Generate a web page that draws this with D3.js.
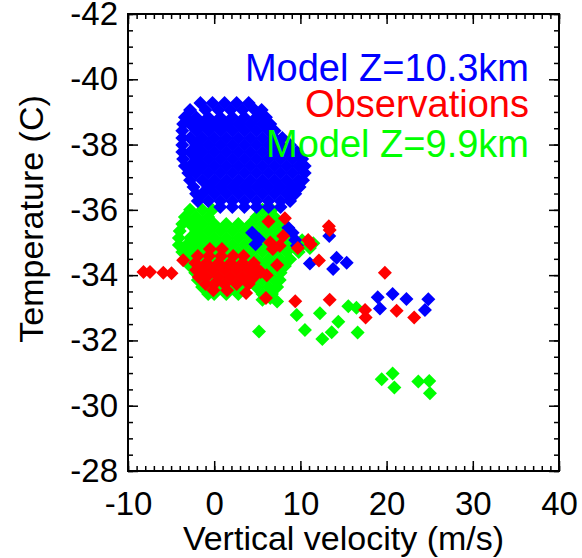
<!DOCTYPE html>
<html>
<head>
<meta charset="utf-8">
<script src="https://cdn.jsdelivr.net/npm/d3@7"></script>
<style>
  html, body { margin: 0; padding: 0; background: #fff; }
  svg { display: block; }
  text { font-family: "Liberation Sans", Arial, Helvetica, sans-serif; }
</style>
</head>
<body>
<svg id="chart" width="582" height="558"></svg>
<script>
// ---------- data ----------
const xTicks = [-10, 0, 10, 20, 30, 40];
const xTickLabels = ["-10", "0", "10", "20", "30", "40"];
const yTicks = [-42, -40, -38, -36, -34, -32, -30, -28];
const yTickLabels = ["-42", "-40", "-38", "-36", "-34", "-32", "-30", "-28"];

const seriesNames = ["Model Z=10.3km", "Observations", "Model Z=9.9km"];
const seriesColors = ["#0000ff", "#ff0000", "#00ff00"];

// Model Z=10.3km : rows of [temperature, [vertical velocities]]
const blueRows = [
  [-39.27, [-1.6, -0.2, 1.2, 2.6, 4.0]],
  [-39.06, [-2.8, -1.0, 0.5, 1.9, 3.3, 4.7, 5.5]],
  [-38.84, [-3.4, -2.1, -0.7, 0.7, 2.1, 3.5, 4.9, 6.0]],
  [-38.63, [-3.6, -2.8, -1.4, 0.0, 1.4, 2.8, 4.2, 5.6, 6.5]],
  [-38.42, [-3.7, -2.1, -0.7, 0.7, 2.1, 3.5, 4.9, 6.3, 7.0]],
  [-38.20, [-3.7, -2.8, -1.4, 0.0, 1.4, 2.8, 4.2, 5.6, 7.0, 7.9]],
  [-37.99, [-3.7, -2.1, -0.7, 0.7, 2.1, 3.5, 4.9, 6.3, 7.7, 8.8]],
  [-37.77, [-3.7, -2.8, -1.4, 0.0, 1.4, 2.8, 4.2, 5.6, 7.0, 8.4, 9.6]],
  [-37.56, [-3.6, -2.1, -0.7, 0.7, 2.1, 3.5, 4.9, 6.3, 7.7, 9.1, 10.2]],
  [-37.34, [-3.4, -2.8, -1.4, 0.0, 1.4, 2.8, 4.2, 5.6, 7.0, 8.4, 9.8, 10.5]],
  [-37.13, [-3.0, -2.1, -0.7, 0.7, 2.1, 3.5, 4.9, 6.3, 7.7, 9.1, 10.5]],
  [-36.91, [-2.8, -1.4, 0.0, 1.4, 2.8, 4.2, 5.6, 7.0, 8.4, 9.8, 10.3]],
  [-36.70, [-2.4, -0.7, 0.7, 2.1, 3.5, 4.9, 6.3, 7.7, 9.1, 9.9]],
  [-36.49, [-2.1, -1.4, 0.0, 1.4, 2.8, 4.2, 5.6, 7.0, 8.4, 9.4]],
  [-36.27, [-1.9, -0.7, 0.7, 2.1, 3.5, 4.9, 6.3, 7.7, 8.8]],
  [-36.09, [0.7, 2.1, 3.5, 4.9, 6.3, 7.7]]
];
const blueExtra = [
  [4.4, -35.3], [5.2, -35.1], [4.8, -34.95], [8.6, -35.45], [9.1, -35.3],
  [9.4, -35.08], [9.6, -34.9], [13.35, -35.2], [11.1, -34.36], [14.2, -34.53],
  [15.37, -34.38], [13.8, -34.19], [18.97, -33.32], [20.7, -33.42], [22.3, -33.27],
  [24.84, -33.26], [19.23, -32.98], [24.45, -32.93]
];

// Model Z=9.9km
const greenRows = [
  [-36.00, [-2.8, -1.4, -0.2, 5.6, 6.7]],
  [-35.78, [-3.4, -2.1, -0.7, 4.9, 6.3, 7.0]],
  [-35.57, [-3.7, -2.8, -1.4, 0.0, 1.4, 2.8, 4.2, 5.6, 7.0, 7.6]],
  [-35.35, [-4.0, -2.1, -0.7, 0.7, 2.1, 3.5, 4.9, 6.3, 7.7, 8.2]],
  [-35.14, [-4.1, -2.8, -1.4, 0.0, 1.4, 2.8, 4.2, 5.6, 7.0, 8.4]],
  [-34.92, [-4.1, -3.2, -2.1, -0.7, 0.7, 2.1, 3.5, 4.9, 6.3, 7.7, 9.1]],
  [-34.71, [-3.7, -2.8, -1.4, 0.0, 1.4, 2.8, 4.2, 5.6, 7.0, 8.4, 9.8]],
  [-34.49, [-3.3, -2.1, -0.7, 0.7, 2.1, 3.5, 4.9, 6.3, 7.7, 8.8]],
  [-34.28, [-2.8, -1.4, 0.0, 1.4, 2.8, 4.2, 5.6, 7.0, 8.2]],
  [-34.07, [-2.2, -0.7, 0.7, 2.1, 3.5, 4.9, 6.3, 7.7]],
  [-33.85, [-1.9, -1.4, 0.0, 1.4, 2.8, 4.2, 5.6, 7.0, 7.6]],
  [-33.64, [-1.4, -0.7, 0.7, 2.1, 3.5, 4.9, 6.3, 7.3]],
  [-33.42, [-0.7, 0.0, 1.4, 2.8, 5.6, 6.7]]
];
const greenExtra = [
  [5.6, -33.25], [6.5, -33.3], [7.3, -33.19],
  [10.0, -34.86], [11.5, -34.98], [10.2, -35.07], [11.1, -34.83],
  [9.57, -32.78], [12.27, -32.83], [15.56, -33.05], [16.5, -33.0], [14.4, -32.57],
  [10.53, -32.32], [13.63, -32.25], [12.54, -32.04], [16.64, -32.24], [5.2, -32.27],
  [19.43, -30.81], [20.7, -30.99], [20.9, -30.56], [23.68, -30.74], [24.95, -30.76],
  [25.03, -30.38]
];

// Observations
const redRows = [
  [-34.80, [-0.5, 0.9]],
  [-34.59, [-1.9, -0.6, 0.8, 2.2, 3.4]],
  [-34.37, [-2.2, -0.9, 0.5, 1.9, 3.3, 4.6]],
  [-34.16, [-2.1, -1.5, -0.2, 1.2, 2.6, 4.0, 5.1]],
  [-33.94, [-1.8, -0.9, 0.5, 1.9, 3.3, 4.6]],
  [-33.73, [-1.0, 0.0, 1.2, 2.6, 4.0]],
  [-33.54, [-0.1, 1.5]]
];
const redExtra = [
  [-8.2, -34.1], [-7.45, -34.1], [-5.9, -34.07], [-4.95, -34.06], [-3.6, -34.46],
  [6.3, -35.64], [8.2, -35.74], [6.5, -35.0], [6.8, -34.8], [8.0, -35.2], [7.6, -34.9],
  [9.7, -34.83], [10.9, -35.08], [11.2, -34.95], [6.1, -34.0], [7.3, -34.31], [5.4, -34.1],
  [3.7, -33.45], [6.0, -33.3], [9.4, -33.2], [13.4, -33.25], [12.15, -34.45],
  [13.3, -35.5], [13.4, -35.38], [19.8, -34.07], [17.5, -32.93], [17.57, -32.7],
  [21.16, -32.91], [23.2, -32.7]
];

// ---------- build ----------
function expand(rows, extra) {
  const pts = [];
  rows.forEach(([t, vs]) => vs.forEach(v => pts.push([v, t])));
  return pts.concat(extra);
}
const bluePts = expand(blueRows, blueExtra);
const greenPts = expand(greenRows, greenExtra);
const redPts = expand(redRows, redExtra);

const svg = d3.select("#chart");
const L = 128, R = 559, T = 14, B = 471;
const x = d3.scaleLinear().domain([-10, 40]).range([L, R]);
const y = d3.scaleLinear().domain([-42, -28]).range([T, B]);

const r = 7;
const diamond = `M0,${-r}L${r},0L0,${r}L${-r},0Z`;

function drawPts(pts, color) {
  svg.append("g").selectAll("path").data(pts).join("path")
    .attr("d", diamond)
    .attr("transform", d => `translate(${x(d[0])},${y(d[1])})`)
    .attr("fill", color);
}
drawPts(greenPts, seriesColors[2]);
drawPts(bluePts, seriesColors[0]);
drawPts(redPts, seriesColors[1]);

// legend texts
const legendY = [81, 117, 157];
seriesNames.forEach((n, i) => {
  svg.append("text").attr("x", 529).attr("y", legendY[i])
    .attr("text-anchor", "end").attr("font-size", 38)
    .attr("fill", seriesColors[i]).text(n);
});

// axes
const xMinor = d3.range(-10, 40.001, 1);
const yMinor = d3.range(-42, -27.999, 0.5);
function styleAxis(g, fs) {
  g.select(".domain").remove();
  g.selectAll("line").attr("stroke", "#000").attr("stroke-width", 1.5);
  g.selectAll("text").attr("font-size", fs).attr("fill", "#000")
    .style("font-family", '"Liberation Sans", Arial, sans-serif');
}
// bottom
svg.append("g").attr("transform", `translate(0,${B})`)
  .call(d3.axisBottom(x).tickValues(xMinor).tickSize(-5).tickFormat(""))
  .call(g => styleAxis(g, 33));
svg.append("g").attr("transform", `translate(0,${B})`)
  .call(d3.axisBottom(x).tickValues(xTicks).tickSize(-10).tickPadding(20.5)
    .tickFormat((d, i) => xTickLabels[i]))
  .call(g => styleAxis(g, 33));
// top
svg.append("g").attr("transform", `translate(0,${T})`)
  .call(d3.axisTop(x).tickValues(xMinor).tickSize(-5).tickFormat(""))
  .call(g => styleAxis(g, 33));
svg.append("g").attr("transform", `translate(0,${T})`)
  .call(d3.axisTop(x).tickValues(xTicks).tickSize(-10).tickFormat(""))
  .call(g => styleAxis(g, 33));
// left
svg.append("g").attr("transform", `translate(${L},0)`)
  .call(d3.axisLeft(y).tickValues(yMinor).tickSize(-5).tickFormat(""))
  .call(g => styleAxis(g, 33));
svg.append("g").attr("transform", `translate(${L},0)`)
  .call(d3.axisLeft(y).tickValues(yTicks).tickSize(-10).tickPadding(10)
    .tickFormat((d, i) => yTickLabels[i]))
  .call(g => styleAxis(g, 33));
// right
svg.append("g").attr("transform", `translate(${R},0)`)
  .call(d3.axisRight(y).tickValues(yMinor).tickSize(-5).tickFormat(""))
  .call(g => styleAxis(g, 33));
svg.append("g").attr("transform", `translate(${R},0)`)
  .call(d3.axisRight(y).tickValues(yTicks).tickSize(-10).tickFormat(""))
  .call(g => styleAxis(g, 33));

// frame
svg.append("rect").attr("x", L).attr("y", T).attr("width", R - L).attr("height", B - T)
  .attr("fill", "none").attr("stroke", "#000").attr("stroke-width", 2);

// titles
svg.append("text").attr("x", (L + R) / 2).attr("y", 550)
  .attr("text-anchor", "middle").attr("font-size", 34).text("Vertical velocity (m/s)");
svg.append("text").attr("transform", "translate(43,219) rotate(-90)")
  .attr("text-anchor", "middle").attr("font-size", 34).text("Temperature (C)");
</script>
</body>
</html>
